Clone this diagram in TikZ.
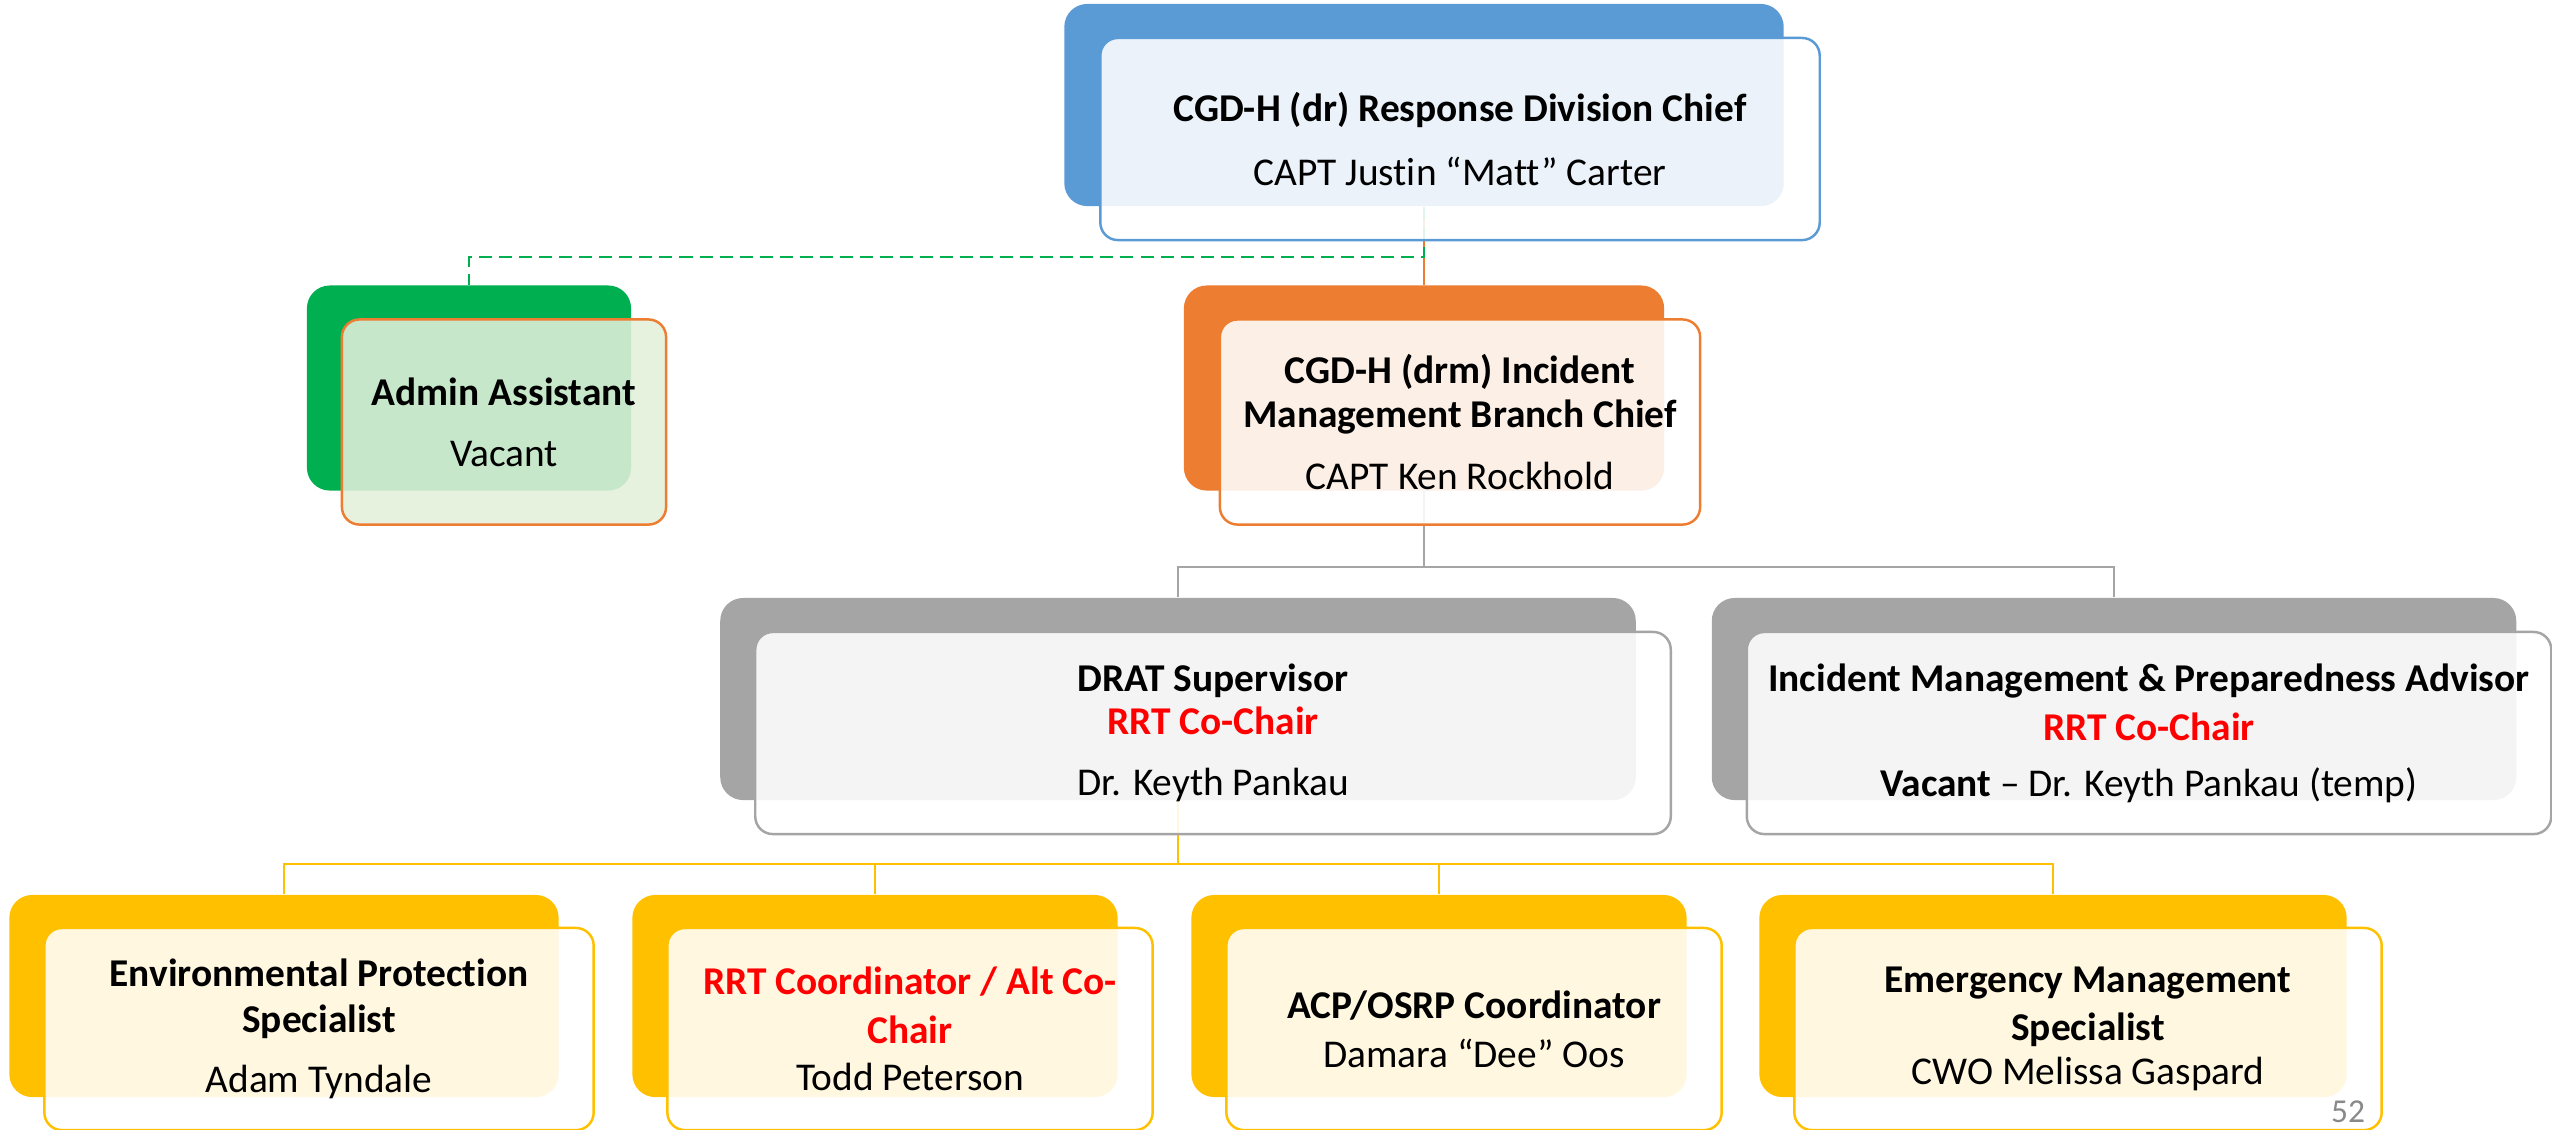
\documentclass[tikz,border=0pt]{standalone}
\usepackage{fontspec}
\setmainfont{Carlito}[Ligatures={TeX,NoCommon}]
\definecolor{ablue}{HTML}{5B9BD5}
\definecolor{aorange}{HTML}{ED7D31}
\definecolor{agray}{HTML}{A5A5A5}
\definecolor{ayellow}{HTML}{FFC000}
\definecolor{agreen}{HTML}{00B050}
\definecolor{lgreen}{HTML}{E2EFDA}
\definecolor{pnumgray}{HTML}{898989}
\definecolor{rrtred}{HTML}{FF0000}
\begin{document}
\begin{tikzpicture}[x=0.01cm,y=-0.01cm,
    every node/.style={font=\fontsize{11.2}{13.2}\selectfont},
    backbox/.style={rectangle,rounded corners=6.5pt,minimum height=2.02cm,inner sep=0pt},
    frontbox/.style={rectangle,rounded corners=5pt,minimum height=2.02cm,inner sep=0pt,
        fill=white,fill opacity=0.88,text opacity=1,line width=0.7pt,align=center},
    orgline/.style={line width=0.8pt},
    admline/.style={agreen,line width=0.8pt,dash pattern=on 3.7pt off 2pt}]
    \useasboundingbox (0,0) rectangle (2552,1129);
    \clip (0,0) rectangle (2552,1129);

    \node[backbox,fill=ablue,minimum width=7.19cm] (topb) at (1424,105) {};
    \node[backbox,fill=agreen,minimum width=3.24cm,minimum height=2.05cm] (admb) at (469,388) {};
    \node[backbox,fill=aorange,minimum width=4.80cm,minimum height=2.05cm] (incb) at (1424,388) {};
    \node[backbox,fill=agray,minimum width=9.15cm] (dratb) at (1178,699) {};
    \node[backbox,fill=agray,minimum width=8.04cm] (impab) at (2114,699) {};
    \node[backbox,fill=ayellow,minimum width=5.49cm] (epsb) at (284,996) {};
    \node[backbox,fill=ayellow,minimum width=4.85cm] (rrtb) at (875,996) {};
    \node[backbox,fill=ayellow,minimum width=4.95cm] (acpb) at (1439,996) {};
    \node[backbox,fill=ayellow,minimum width=5.87cm] (emb) at (2053,996) {};

    \coordinate (tbus) at (0,257);
    \coordinate (gbus) at (0,567);
    \coordinate (ybus) at (0,864);
    \draw[orgline,aorange] (topb.south) -- (incb.north);
    \draw[admline] (topb.south) -- (topb.south |- tbus) -| (admb.north);
    \draw[orgline,agray] (incb.south) -- (incb.south |- gbus) -| (dratb.north);
    \draw[orgline,agray] (incb.south |- gbus) -| (impab.north);
    \draw[orgline,ayellow] (dratb.south) -- (dratb.south |- ybus) -| (epsb.north);
    \draw[orgline,ayellow] (dratb.south |- ybus) -| (rrtb.north);
    \draw[orgline,ayellow] (dratb.south |- ybus) -| (acpb.north);
    \draw[orgline,ayellow] (dratb.south |- ybus) -| (emb.north);

    \node[frontbox,draw=ablue,minimum width=7.19cm] (topf) at (1460,139)
        {\textbf{CGD-H (dr) Response Division Chief}\\[4.8pt] CAPT Justin “Matt” Carter};
    \node[frontbox,draw=aorange,fill=lgreen,minimum width=3.24cm,minimum height=2.05cm] (admf) at (504,422)
        {\textbf{Admin Assistant}\\[4.2pt] Vacant};
    \node[frontbox,draw=aorange,minimum width=4.80cm,minimum height=2.05cm] (incf) at (1460,422)
        {\textbf{CGD-H (drm) Incident}\\[-0.7pt] \textbf{Management Branch Chief}\\[4.2pt] CAPT Ken Rockhold};
    \node[frontbox,draw=agray,minimum width=9.15cm] (dratf) at (1213,733)
        {\textbf{DRAT Supervisor}\\[-1pt] \textcolor{rrtred}{\textbf{RRT Co-Chair}}\\[4.2pt] Dr. Keyth Pankau};
    \node[frontbox,draw=agray,minimum width=8.04cm] (impaf) at (2149,733)
        {\textbf{Incident Management \& Preparedness Advisor}\\[0.7pt] \textcolor{rrtred}{\textbf{RRT Co-Chair}}\\[2.7pt] \textbf{Vacant} -- Dr. Keyth Pankau (temp)};
    \node[frontbox,draw=ayellow,minimum width=5.49cm] (epsf) at (319,1029)
        {\textbf{Environmental Protection}\\ \textbf{Specialist}\\[3.9pt] Adam Tyndale};
    \node[frontbox,draw=ayellow,minimum width=4.85cm] (rrtf) at (910,1029)
        {\textcolor{rrtred}{\textbf{RRT Coordinator / Alt Co-}}\\[0.7pt] \textcolor{rrtred}{\textbf{Chair}}\\[0.2pt] Todd Peterson};
    \node[frontbox,draw=ayellow,minimum width=4.95cm] (acpf) at (1474,1029)
        {\textbf{ACP/OSRP Coordinator}\\[0.7pt] Damara “Dee” Oos};
    \node[frontbox,draw=ayellow,minimum width=5.87cm] (emf) at (2088,1029)
        {\textbf{Emergency Management}\\[0.4pt] \textbf{Specialist}\\[-0.6pt] CWO Melissa Gaspard};

    \node[text=pnumgray,font=\fontsize{9.5}{11}\selectfont] (pnum) at (2348,1112) {52};
\end{tikzpicture}
\end{document}
